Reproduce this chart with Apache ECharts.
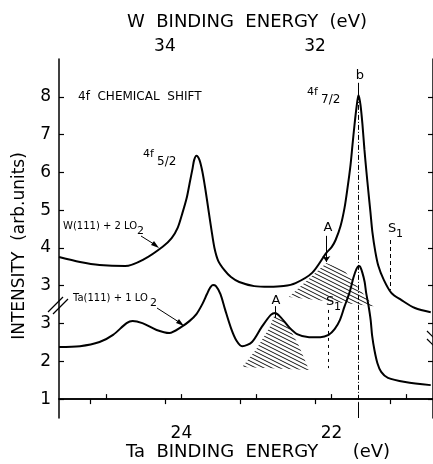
<!DOCTYPE html>
<html>
<head>
<meta charset="utf-8">
<script src="https://cdn.jsdelivr.net/npm/echarts@6/dist/echarts.min.js"></script>
<style>
  html, body { margin: 0; padding: 0; background: #fff; }
  #chart { width: 433px; height: 464px; }
</style>
</head>
<body>
<div id="chart"></div>
<script>
// Ta binding energy (eV) on the bottom axis, W energy = Ta + 9.78 on top
const W_OFFSET = 9.78
const taTicks = [25, 24, 23, 22, 21]
const taLabels = [24, 22]
const wTicks = [35, 34, 33, 32, 31]
const wLabels = [34, 32]
// intensity axis is broken: lower trace labels are shifted by one unit
const intensityTicks = [0, 1, 2, 3, 4, 5, 6, 7, 8]
const intensityLabels = ['1', '2', '3', '3', '4', '5', '6', '7', '8']

// W(111) + 2 LO2  [Ta energy, intensity]
const wCurve = [
  [25.63, 3.76], [25.35, 3.63], [25.09, 3.55], [24.75, 3.52], [24.49, 3.71],
  [24.25, 4.03], [24.13, 4.26], [24.05, 4.53], [23.99, 4.90], [23.93, 5.32],
  [23.89, 5.72], [23.85, 6.12], [23.83, 6.33], [23.80, 6.44], [23.76, 6.33],
  [23.72, 6.01], [23.68, 5.54], [23.64, 5.01], [23.60, 4.48], [23.56, 4.00],
  [23.51, 3.66], [23.43, 3.42], [23.34, 3.23], [23.23, 3.10], [23.03, 2.99],
  [22.83, 2.97], [22.64, 2.99], [22.48, 3.07], [22.26, 3.34], [22.07, 3.87],
  [22.00, 4.02], [21.947, 4.21], [21.881, 4.58], [21.828, 5.06], [21.788, 5.59],
  [21.748, 6.20], [21.722, 6.73], [21.695, 7.26], [21.669, 7.71], [21.642, 8.05],
  [21.616, 7.79], [21.589, 7.26], [21.563, 6.60], [21.536, 6.01], [21.510, 5.48],
  [21.483, 4.95], [21.457, 4.42], [21.417, 3.89], [21.377, 3.52], [21.311, 3.18],
  [21.205, 2.81], [21.07, 2.62], [20.89, 2.41], [20.68, 2.30]
]

// Ta(111) + 1 LO2
const taCurve = [
  [25.63, 1.38], [25.35, 1.40], [25.09, 1.51], [24.91, 1.70], [24.73, 2.01],
  [24.65, 2.07], [24.52, 2.01], [24.33, 1.83], [24.16, 1.75], [24.00, 1.91],
  [23.89, 2.07], [23.80, 2.25], [23.72, 2.52], [23.66, 2.78], [23.62, 2.94],
  [23.58, 3.02], [23.54, 2.99], [23.48, 2.78], [23.42, 2.38], [23.34, 1.88],
  [23.27, 1.56], [23.19, 1.40], [23.06, 1.51], [22.93, 1.91], [22.81, 2.23],
  [22.75, 2.28], [22.68, 2.17], [22.57, 1.91], [22.46, 1.72], [22.30, 1.64],
  [22.15, 1.64], [22.04, 1.70], [21.96, 1.85], [21.89, 2.09], [21.83, 2.44],
  [21.76, 2.83], [21.71, 3.21], [21.67, 3.44], [21.64, 3.52], [21.62, 3.50],
  [21.59, 3.34], [21.56, 3.10], [21.54, 2.81], [21.51, 2.49], [21.48, 2.09],
  [21.46, 1.67], [21.43, 1.30], [21.39, 0.95], [21.34, 0.72], [21.25, 0.56],
  [21.02, 0.45], [20.68, 0.37]
]

// hatched areas (A features)
const hatchLower = [
  [22.75, 2.28], [22.66, 2.15], [22.57, 1.91], [22.44, 1.43], [22.30, 0.77],
  [23.19, 0.85], [23.01, 1.30], [22.83, 1.88]
]
const hatchUpper = [[22.07, 3.60], [21.84, 3.42], [21.44, 2.46], [22.57, 2.70]]
const hatchAreas = [hatchLower, hatchUpper]

// marker lines: [energy, from, to]
const markB = [21.642, 8.37, -0.5]
const markUpperA = [22.07, 4.32, 3.63]
const markUpperS1 = [21.22, 4.21, 2.89]
const markLowerA = [22.75, 2.46, 2.15]
const markLowerS1 = [22.04, 2.36, 0.82]

const FONT = 'DejaVu Sans'
const chart = echarts.init(document.getElementById('chart'))

// diagonal hatch tile
const tile = document.createElement('canvas')
tile.width = 8
tile.height = 4
const tctx = tile.getContext('2d')
tctx.strokeStyle = '#111'
tctx.lineWidth = 1
for (let k = -1; k <= 1; k++) {
  tctx.beginPath()
  tctx.moveTo(0, k * 4)
  tctx.lineTo(8, 4 + k * 4)
  tctx.stroke()
}
const hatchFill = { image: tile, repeat: 'repeat' }

const vLine = (m, type, endSymbol) => [
  { coord: [m[0], m[1]], symbol: 'none' },
  { coord: [m[0], m[2]], symbol: endSymbol || 'none', symbolSize: 6, lineStyle: { type: type, color: '#000', width: 1 } }
]

const txt = (x, y, text, size, align) => ({
  type: 'text', x: x, y: y,
  style: { text: text, font: size + 'px "' + FONT + '"', fill: '#000', textAlign: align || 'left', textVerticalAlign: 'middle' }
})
const seg = (pts, w) => ({
  type: 'polyline', shape: { points: pts }, style: { stroke: '#000', lineWidth: w || 1, fill: null }
})
const head = (pts) => ({ type: 'polygon', shape: { points: pts }, style: { fill: '#000' } })

const axisLineStyle = { color: '#000', width: 1.5 }
const curveStyle = { color: '#000', width: 2 }

const option = {
  animation: false,
  backgroundColor: '#fff',
  grid: { left: 59, top: 59, width: 376, bottom: 46 },
  xAxis: [
    {
      type: 'value', position: 'bottom', min: 20.65, max: 25.63, inverse: true,
      axisLine: { lineStyle: axisLineStyle },
      axisTick: { inside: true, length: 5, lineStyle: { color: '#000', width: 1.2 }, customValues: taTicks },
      axisLabel: { customValues: taLabels, margin: 7, color: '#000', fontSize: 17, fontFamily: FONT },
      splitLine: { show: false }
    },
    {
      type: 'value', position: 'top', min: 20.65 + W_OFFSET, max: 25.63 + W_OFFSET, inverse: true,
      axisLine: { lineStyle: axisLineStyle },
      axisTick: { inside: true, length: 5, lineStyle: { color: '#000', width: 1.2 }, customValues: wTicks },
      axisLabel: { customValues: wLabels, margin: 4, color: '#000', fontSize: 17, fontFamily: FONT },
      splitLine: { show: false }
    }
  ],
  yAxis: [
    {
      type: 'value', position: 'left', min: -0.5, max: 9,
      axisLine: { show: true, lineStyle: axisLineStyle },
      axisTick: { show: true, inside: true, length: 5, lineStyle: { color: '#000', width: 1.2 }, customValues: intensityTicks },
      axisLabel: {
        customValues: intensityTicks, margin: 8, color: '#000', fontSize: 17, fontFamily: FONT,
        formatter: v => intensityLabels[intensityTicks.indexOf(v)]
      },
      splitLine: { show: false }
    },
    {
      type: 'value', position: 'right', min: -0.5, max: 9,
      axisLine: { show: true, lineStyle: axisLineStyle },
      axisTick: { show: true, inside: true, length: 5, lineStyle: { color: '#000', width: 1.2 }, customValues: intensityTicks },
      axisLabel: { show: false },
      splitLine: { show: false }
    }
  ],
  series: [
    {
      type: 'custom', name: 'hatch', silent: true,
      data: hatchAreas.map((p, i) => [p[0][0], p[0][1], i]),
      renderItem: (params, api) => {
        const pts = hatchAreas[api.value(2)].map(p => api.coord(p))
        return { type: 'polygon', shape: { points: pts }, style: { fill: hatchFill, stroke: null } }
      },
      z: 1
    },
    {
      type: 'line', name: 'W(111) + 2 LO2', data: wCurve,
      smooth: 0.3, symbol: 'none',
      lineStyle: curveStyle, z: 3
    },
    {
      type: 'line', name: 'Ta(111) + 1 LO2', data: taCurve,
      smooth: 0.3, symbol: 'none',
      lineStyle: curveStyle, z: 3,
      markLine: {
        silent: true, animation: false, label: { show: false },
        symbol: ['none', 'none'],
        lineStyle: { color: '#000', width: 1 },
        data: [
          vLine([markB[0], markB[1], 8.05], 'solid'),
          vLine([markB[0], 8.05, -0.08], [5, 2, 1, 2]),
          vLine([markB[0], -0.08, markB[2]], 'solid'),
          vLine(markUpperA, 'solid', 'arrow'),
          vLine(markUpperS1, [4, 3]),
          vLine(markLowerA, 'solid'),
          vLine(markLowerS1, [3, 4])
        ]
      }
    }
  ],
  graphic: [
    txt(247, 22, 'W  BINDING  ENERGY  (eV)', 18, 'center'),
    txt(258, 452, 'Ta  BINDING  ENERGY      (eV)', 18, 'center'),
    {
      type: 'text', x: 20, y: 246, rotation: Math.PI / 2,
      style: { text: 'INTENSITY  (arb.units)', font: '17px "' + FONT + '"', fill: '#000', textAlign: 'center', textVerticalAlign: 'middle' }
    },
    txt(78, 97, '4f  CHEMICAL  SHIFT', 12),
    txt(360, 76, 'b', 13, 'center'),
    txt(307, 92, '4f', 11),
    txt(321, 100, '7/2', 12),
    txt(143, 154, '4f', 11),
    txt(157, 162, '5/2', 12),
    txt(63, 226, 'W(111) + 2 LO', 10),
    txt(137, 231, '2', 11),
    txt(73, 298, 'Ta(111) + 1 LO', 10),
    txt(150, 303, '2', 11),
    seg([[141, 236], [157, 246]]),
    head([[159, 248], [151, 245], [154, 241]]),
    seg([[157, 308], [182, 324]]),
    head([[184, 326], [176, 323], [179, 319]]),
    txt(328, 228, 'A', 13, 'center'),
    txt(388, 229, 'S', 13),
    txt(396, 234, '1', 11),
    txt(276, 301, 'A', 13, 'center'),
    txt(326, 302, 'S', 13),
    txt(334, 307, '1', 11),
    // axis break marks
    seg([[48, 312], [63, 297]], 1.2),
    seg([[53, 314], [68, 299]], 1.2),
    seg([[427, 331], [434, 338]], 1.2),
    seg([[427, 339], [434, 346]], 1.2)
  ]
}

chart.setOption(option)
window.addEventListener('resize', () => chart.resize())
</script>
</body>
</html>
